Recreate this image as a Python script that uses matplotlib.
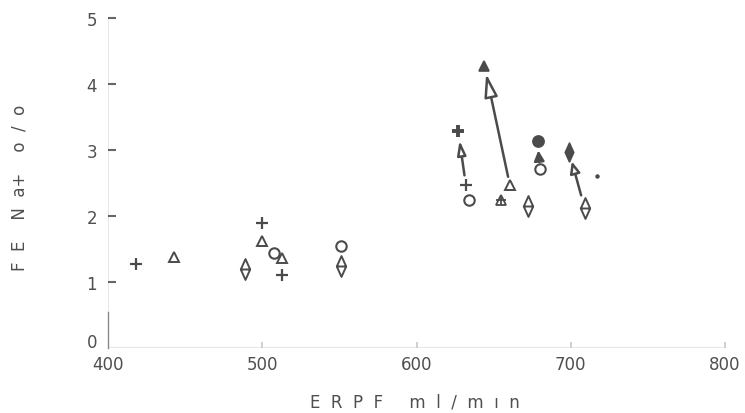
import matplotlib
matplotlib.use("Agg")
import matplotlib.pyplot as plt
import matplotlib.transforms as mtransforms
from matplotlib.path import Path
from matplotlib.patches import ArrowStyle

# ---- data -------------------------------------------------------------
# open symbols (single measurements)
plus_x = [418, 500, 513]
plus_y = [1.28, 1.90, 1.10]
tri_x = [443, 500, 513]
tri_y = [1.38, 1.62, 1.37]
circ_x = [507.5, 551, 634]
circ_y = [1.44, 1.55, 2.25]
diam_x = [488.5, 551, 672.5]
diam_y = [1.19, 1.24, 2.15]
tri_plus_x = [655]
tri_plus_y = [2.25]
dot_x = [717]
dot_y = [2.61]

# paired measurements: open symbol (before) -> filled symbol (after)
pair_symbol = ["plus", "tri", "circ", "diam"]
before_x = [632, 660.5, 680, 709]
before_y = [2.47, 2.47, 2.71, 2.12]
after_x = [627, 644, 678.5, 699]
after_y = [3.29, 4.28, 3.13, 2.97]

x_ticks = [400, 500, 600, 700, 800]
y_ticks = [0, 1, 2, 3, 4, 5]

# ---- styling ----------------------------------------------------------
INK = "#4b4b4b"
TXT = "#4f4f4f"

diamond_path = Path(
    [(0, 1), (0.45, 0), (0, -1), (-0.45, 0), (0, 1), (-0.45, 0), (0.45, 0)],
    [Path.MOVETO, Path.LINETO, Path.LINETO, Path.LINETO, Path.CLOSEPOLY,
     Path.MOVETO, Path.LINETO],
)
solid_diamond = Path(
    [(0, 1), (0.45, 0), (0, -1), (-0.45, 0), (0, 1)],
    [Path.MOVETO, Path.LINETO, Path.LINETO, Path.LINETO, Path.CLOSEPOLY],
)

open_style = {
    "plus": dict(marker="+", ms=8, mew=1.6, color=INK),
    "tri": dict(marker="^", ms=7.5, mew=1.4, mfc="white", mec=INK),
    "circ": dict(marker="o", ms=7.5, mew=1.5, mfc="white", mec=INK),
    "diam": dict(marker=diamond_path, ms=15, mew=1.4, mfc="white", mec=INK),
}
filled_style = {
    "plus": dict(marker="+", ms=8.5, mew=2.8, color=INK),
    "tri": dict(marker="^", ms=7.5, mew=1.2, mfc=INK, mec=INK),
    "circ": dict(marker="o", ms=8, mew=1.2, mfc=INK, mec=INK),
    "diam": dict(marker=solid_diamond, ms=13.5, mew=1.2, mfc=INK, mec=INK),
}
# arrow geometry per pair: head length, head half-width, shrink tail, shrink head (points)
arrow_geom = {
    "plus": dict(hl=8.5, hw=2.6, sa=7, sb=7, fill="white"),
    "tri": dict(hl=14, hw=4.0, sa=6, sb=6, fill="white"),
    "circ": dict(hl=6, hw=3.0, sa=5, sb=6.5, fill=INK),
    "diam": dict(hl=7, hw=3.0, sa=9.5, sb=7, fill="white"),
}

fig = plt.figure(figsize=(7.45, 4.14), dpi=100)
ax = fig.add_axes([108 / 745, 1 - 349 / 414, 617 / 745, 330 / 414])
ax.set_xlim(400, 800)
ax.set_ylim(0, 5)

for s in ax.spines.values():
    s.set_visible(False)

# faint axes lines
ax.axvline(400, color="#e4e4e4", lw=1.3, zorder=0)
ax.axhline(0, color="#e8e8e8", lw=1.6, zorder=0)
ax.plot([400, 400], [0, 0.55], color="#8a8a8a", lw=1.0, zorder=1, clip_on=False)

# single symbols
ax.plot(plus_x, plus_y, ls="none", **open_style["plus"])
ax.plot(tri_x, tri_y, ls="none", **open_style["tri"])
ax.plot(circ_x, circ_y, ls="none", **open_style["circ"])
ax.plot(diam_x, diam_y, ls="none", **open_style["diam"])
ax.plot(tri_plus_x, tri_plus_y, ls="none", marker="^", ms=7, mew=1.3,
        mfc="white", mec=INK)
ax.plot(tri_plus_x, tri_plus_y, ls="none", marker="+", ms=7, mew=1.3, color=INK)
ax.plot(dot_x, dot_y, ls="none", marker="o", ms=2.2, color=INK)

# paired symbols joined by arrows
for sym, bx, by, fx, fy in zip(pair_symbol, before_x, before_y, after_x, after_y):
    g = arrow_geom[sym]
    ax.annotate(
        "", xy=(fx, fy), xytext=(bx, by), xycoords="data",
        arrowprops=dict(
            arrowstyle=ArrowStyle("-|>", head_length=g["hl"], head_width=g["hw"]),
            mutation_scale=1, lw=1.8, ec=INK, fc=g["fill"],
            shrinkA=g["sa"], shrinkB=g["sb"],
        ),
        zorder=3,
    )
    ax.plot([bx], [by], ls="none", zorder=4, **open_style[sym])
    ax.plot([fx], [fy], ls="none", zorder=4, **filled_style[sym])

# ticks
ax.set_xticks(x_ticks)
ax.set_xticklabels([str(v) for v in x_ticks])
ax.set_yticks(y_ticks)
ax.set_yticklabels([str(v) for v in y_ticks])
ax.tick_params(axis="x", direction="in", length=4, width=1.2, color="#c8c8c8",
               pad=5, labelsize=12, labelcolor=TXT)
ax.tick_params(axis="y", direction="in", length=6, width=1.5, color="#666666",
               pad=8, labelsize=12, labelcolor=TXT)
ax.xaxis.get_major_ticks()[0].tick1line.set_visible(False)
ax.yaxis.get_major_ticks()[0].tick1line.set_visible(False)

# lift the "0" label a little so it clears the "400" below it
zero_lbl = ax.yaxis.get_major_ticks()[0].label1
zero_lbl.set_transform(zero_lbl.get_transform()
                       + mtransforms.ScaledTranslation(0, 8 / 100, fig.dpi_scale_trans))

fig.text(415 / 745, 1 - 403 / 414, "E  R  P  F     m  l  /  m  ı  n", ha="center",
         va="center", fontsize=12, color=TXT)
fig.text(20 / 745, 1 - 188 / 414, "F  E    N  a+    o  /  o", ha="center",
         va="center", rotation=90, fontsize=12, color=TXT)

fig.savefig("out.png", dpi=100)
